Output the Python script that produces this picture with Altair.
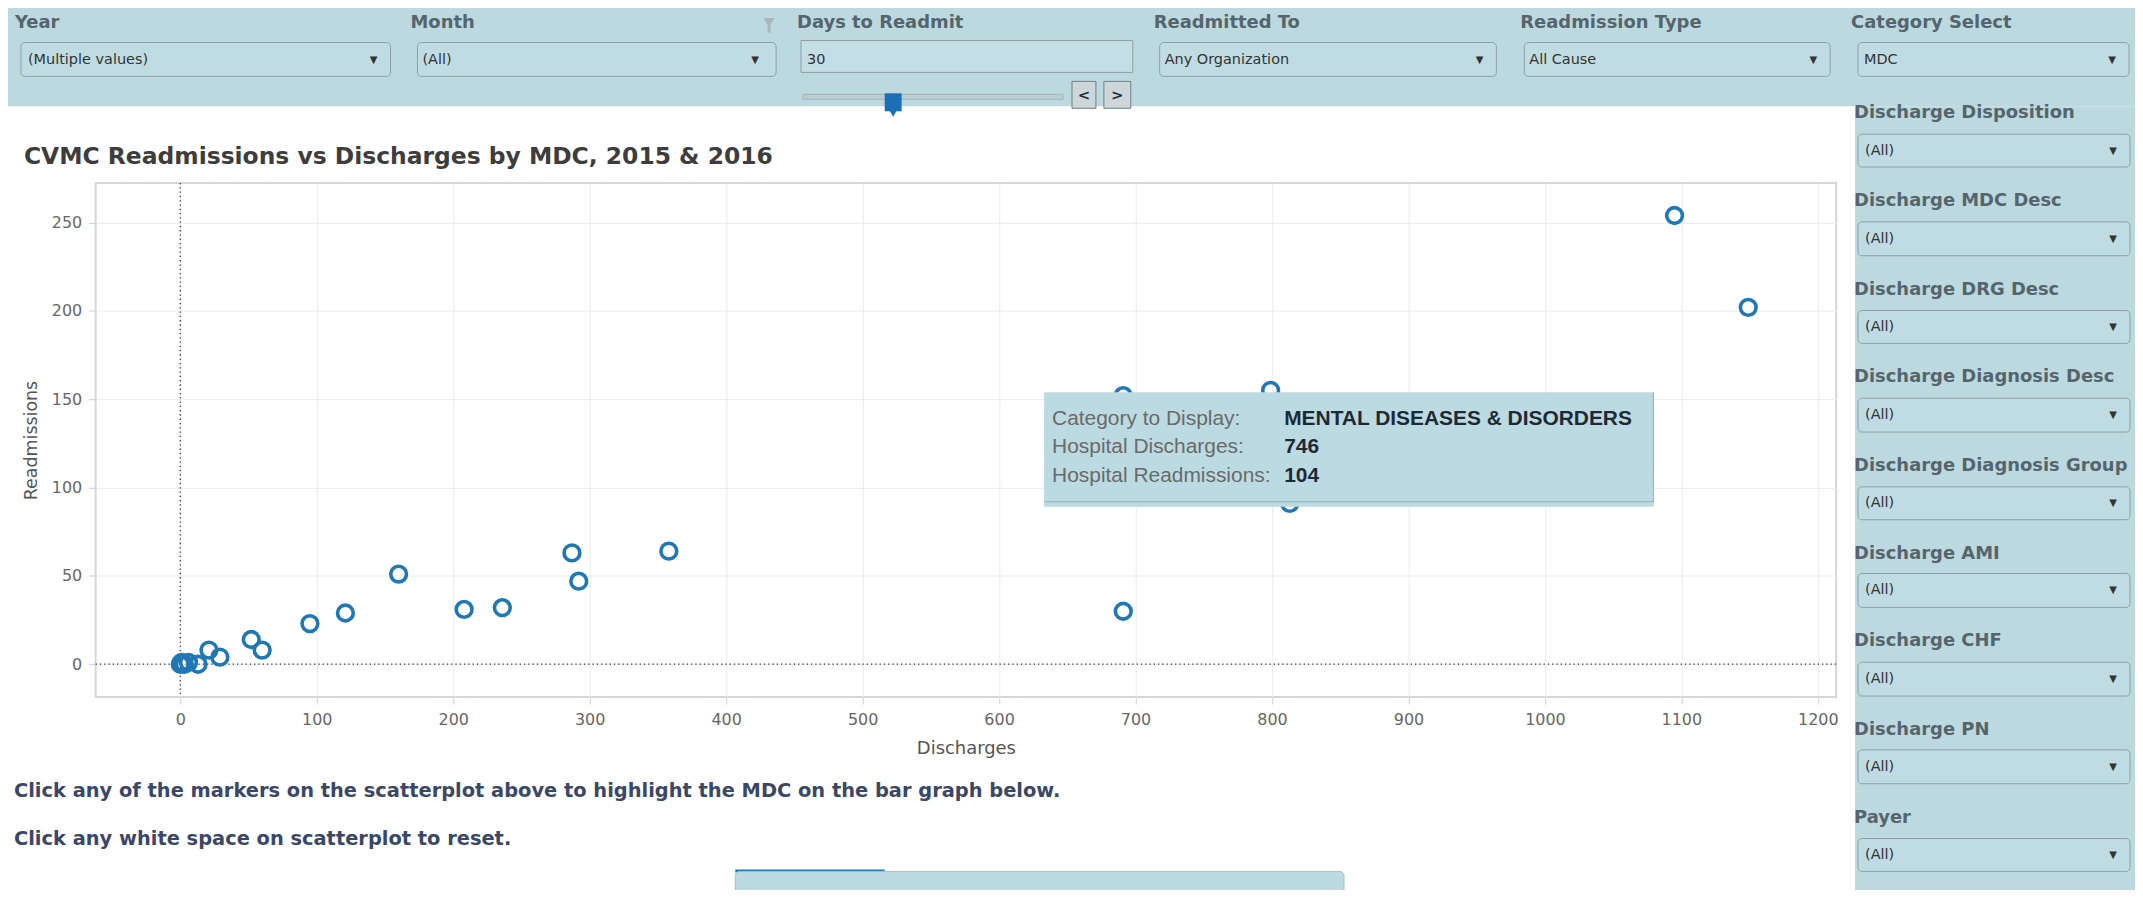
import altair as alt
import pandas as pd

# ---------------- data ----------------
discharges = [1095, 1149, 691, 799, 813, 1073, 746, 691, 358, 287, 292, 236, 208,
               160, 121, 95, 52, 60, 21, 29, 13, 6, 3, 1, 0]
readmissions = [254, 202, 152, 155, 91, 111, 104, 30, 64, 63, 47, 32, 31,
                51, 29, 23, 14, 8, 8, 4, 0, 1, 0, 1, 0]
x_ticks = [0, 100, 200, 300, 400, 500, 600, 700, 800, 900, 1000, 1100, 1200]
y_ticks = [0, 50, 100, 150, 200, 250]

chart_title = "CVMC Readmissions vs Discharges by MDC, 2015 & 2016"
x_title = "Discharges"
y_title = "Readmissions"

top_filter_labels = ["Year", "Month", "Days to Readmit", "Readmitted To",
                     "Readmission Type", "Category Select"]
top_filter_values = ["(Multiple values)", "(All)", "30", "Any Organization",
                     "All Cause", "MDC"]
side_filter_labels = ["Discharge Disposition", "Discharge MDC Desc", "Discharge DRG Desc",
                      "Discharge Diagnosis Desc", "Discharge Diagnosis Group",
                      "Discharge AMI", "Discharge CHF", "Discharge PN", "Payer"]
side_filter_values = ["(All)"] * 9
notes = ["Click any of the markers on the scatterplot above to highlight the MDC on the bar graph below.",
         "Click any white space on scatterplot to reset."]
tip_labels = ["Category to Display:", "Hospital Discharges:", "Hospital Readmissions:"]
tip_values = ["MENTAL DISEASES & DISORDERS", "746", "104"]

# ---------------- layout (page pixels) ----------------
OX, OY = 96, 182          # plot origin on the page
W, H = 1747, 516          # plot size

PANEL = "#bcd9e0"
LABEL = "#55656d"

top_label_x = [15, 412, 800, 1158, 1526, 1858]
top_box_x = [(21, 392), (419, 779), (1164, 1502), (1530, 1837), (1865, 2137)]
top_text_x = [28, 424, 810, 1169, 1535, 1871]
top_arrow_x = [375, 758, 1485, 1820, 2120]
side_label_base = [117, 205.5, 294, 382, 471, 559, 647, 736, 824]
side_box_y = [(133, 166), (221, 255), (310, 343), (398, 432), (487, 520),
              (574, 608), (663, 697), (751, 785), (840, 873)]


def XP(v):
    return alt.X(v, scale=None, axis=None)


def YP(v):
    return alt.Y(v, scale=None, axis=None)


def rect_layer(boxes, **kw):
    df = pd.DataFrame({
        "x1": [b[0] - OX for b in boxes], "x2": [b[1] - OX for b in boxes],
        "y1": [b[2] - OY for b in boxes], "y2": [b[3] - OY for b in boxes]})
    return alt.Chart(df).mark_rect(**kw).encode(
        x=XP("x1:Q"), x2="x2:Q", y=YP("y1:Q"), y2="y2:Q")


def text_layer(xs, ys, texts, **kw):
    df = pd.DataFrame({"px": [x - OX for x in xs], "py": [y - OY for y in ys], "t": texts})
    return alt.Chart(df).mark_text(**kw).encode(x=XP("px:Q"), y=YP("py:Q"), text="t:N")


# ---------------- dashboard chrome ----------------
panels = rect_layer([(0, 2143, 0, 105), (1862, 2143, 105, 898)], fill=PANEL)
dropdowns = rect_layer(
    [(a, b, 41, 75) for a, b in top_box_x] + [(1865, 2138, a, b) for a, b in side_box_y],
    fill="#c0dce3", stroke="#8da2a8", strokeWidth=1, cornerRadius=4)
input_box = rect_layer([(804, 1137, 39, 71)], fill="#c3dee4", stroke="#8e9fa5", strokeWidth=1)
slider_track = rect_layer([(806, 1067, 93, 98)], fill="#b9cfd4", stroke="#a3b6bb", strokeWidth=1)
slider_handle = rect_layer([(888, 905, 92, 110)], fill="#1b6fb5")
slider_tip = alt.Chart(pd.DataFrame({"px": [896.5 - OX], "py": [111 - OY]})).mark_point(
    shape="triangle-down", filled=True, size=110, color="#1b6fb5", opacity=1).encode(
    x=XP("px:Q"), y=YP("py:Q"))
buttons = rect_layer([(1076, 1100, 80, 107), (1108, 1135, 80, 107)],
                     fill="#cdd6d9", stroke="#6f7f84", strokeWidth=1)
funnel = alt.Chart(pd.DataFrame({"px": [772 - OX], "py": [21 - OY]})).mark_point(
    shape="triangle-down", filled=True, size=120, color="#a7b8bd", opacity=1).encode(
    x=XP("px:Q"), y=YP("py:Q"))
funnel_stem = rect_layer([(770.5, 773.5, 22, 31)], fill="#a7b8bd")

top_labels = text_layer(top_label_x, [26] * 6, top_filter_labels, font="DejaVu Sans",
                        fontWeight="bold", fontSize=18, color=LABEL, align="left",
                        baseline="alphabetic")
side_labels = text_layer([1861] * 9, side_label_base, side_filter_labels, font="DejaVu Sans",
                         fontWeight="bold", fontSize=18, color=LABEL, align="left",
                         baseline="alphabetic")
top_values = text_layer(top_text_x, [58.5] * 6, top_filter_values, font="DejaVu Sans",
                        fontSize=14.5, color="#333333", align="left", baseline="middle")
side_values = text_layer([1872] * 9, [(a + b) / 2 for a, b in side_box_y], side_filter_values,
                         font="DejaVu Sans", fontSize=14.5, color="#333333", align="left",
                         baseline="middle")
arrows = text_layer(top_arrow_x + [2121] * 9,
                    [58.5] * 5 + [(a + b) / 2 for a, b in side_box_y],
                    ["\u25BC"] * 14, font="DejaVu Sans", fontSize=10, color="#333333",
                    align="center", baseline="middle")
btn_glyphs = text_layer([1088, 1121.5], [93.5, 93.5], ["<", ">"], font="DejaVu Sans",
                        fontWeight="bold", fontSize=15, color="#1e2d3b", align="center",
                        baseline="middle")

title_layer = text_layer([24], [163], [chart_title], font="DejaVu Sans", fontWeight="bold",
                         fontSize=23.5, color="#3d3d3d", align="left", baseline="alphabetic")
notes_layer = text_layer([14, 14], [798, 846], notes, font="DejaVu Sans", fontWeight="bold",
                         fontSize=19.5, color="#3b4766", align="left", baseline="alphabetic")

# tooltip over the scatter
tip_box = rect_layer([(1048, 1660, 392, 507)], fill="#bcdae1")
tip_edges = rect_layer([(1048, 1660, 501.5, 502.5), (1659, 1660, 392, 502)], fill="#98adb3")
tip_lab = text_layer([1056] * 3, [425, 453, 482], tip_labels, font="Liberation Sans",
                     fontSize=21, color="#6a6a6a", align="left", baseline="alphabetic")
tip_val = text_layer([1289] * 3, [425, 453, 482], tip_values, font="Liberation Sans",
                     fontWeight="bold", fontSize=21, color="#1d2a36", align="left",
                     baseline="alphabetic")
# second tooltip peeking at the bottom
tip2_box = rect_layer([(738, 1349, 873, 900)], fill="#bcdae1", stroke="#a9bfc5",
                      strokeWidth=1, cornerRadius=4)
tip2_bar = rect_layer([(738, 888, 871, 874)], fill="#1f77b4")

# ---------------- scatter plot ----------------
pts_df = pd.DataFrame({"Discharges": discharges, "Readmissions": readmissions})
xscale = alt.Scale(domain=[-62, 1213.4], nice=False, zero=False)
yscale = alt.Scale(domain=[-18.6, 272.4], nice=False, zero=False)

points = alt.Chart(pts_df).mark_point(
    shape="circle", filled=False, size=250, strokeWidth=3.6, color="#1f77b4", opacity=1
).encode(
    x=alt.X("Discharges:Q", scale=xscale,
            axis=alt.Axis(values=x_ticks, format="d", title=x_title, labelPadding=8,
                          titlePadding=12, titleFontSize=18)),
    y=alt.Y("Readmissions:Q", scale=yscale,
            axis=alt.Axis(values=y_ticks, format="d", title=y_title, labelPadding=7,
                          titlePadding=11, titleFontSize=17.5)),
)

zero_df = pd.DataFrame({"v": [0]})
vzero = alt.Chart(zero_df).mark_rule(color="#333333", strokeWidth=1.3, strokeDash=[1.3, 3]).encode(
    x=alt.X("v:Q", scale=xscale))
hzero = alt.Chart(zero_df).mark_rule(color="#333333", strokeWidth=1.3, strokeDash=[1.3, 3]).encode(
    y=alt.Y("v:Q", scale=yscale))

chart = alt.layer(
    panels, dropdowns, input_box, slider_track, slider_handle, slider_tip, buttons,
    funnel, funnel_stem,
    vzero, hzero, points,
    tip_box, tip_edges, tip2_bar, tip2_box,
    top_labels, side_labels, top_values, side_values, arrows, btn_glyphs,
    title_layer, notes_layer, tip_lab, tip_val,
).properties(
    width=W, height=H,
    autosize=alt.AutoSizeParams(type="none"),
    padding={"left": 88, "top": 174, "right": 300, "bottom": 192},
    background="white",
).configure_view(
    stroke="#d6d6d6", strokeWidth=2
).configure_axis(
    domain=False, grid=True, gridColor="#ebebeb", gridWidth=1,
    tickColor="#cfcfcf", tickSize=7,
    labelFont="DejaVu Sans", labelFontSize=16, labelColor="#666666",
    titleFont="DejaVu Sans", titleFontWeight="normal", titleColor="#555555",
)

chart.save("out.html", embed_options={"renderer": "svg", "actions": False})
